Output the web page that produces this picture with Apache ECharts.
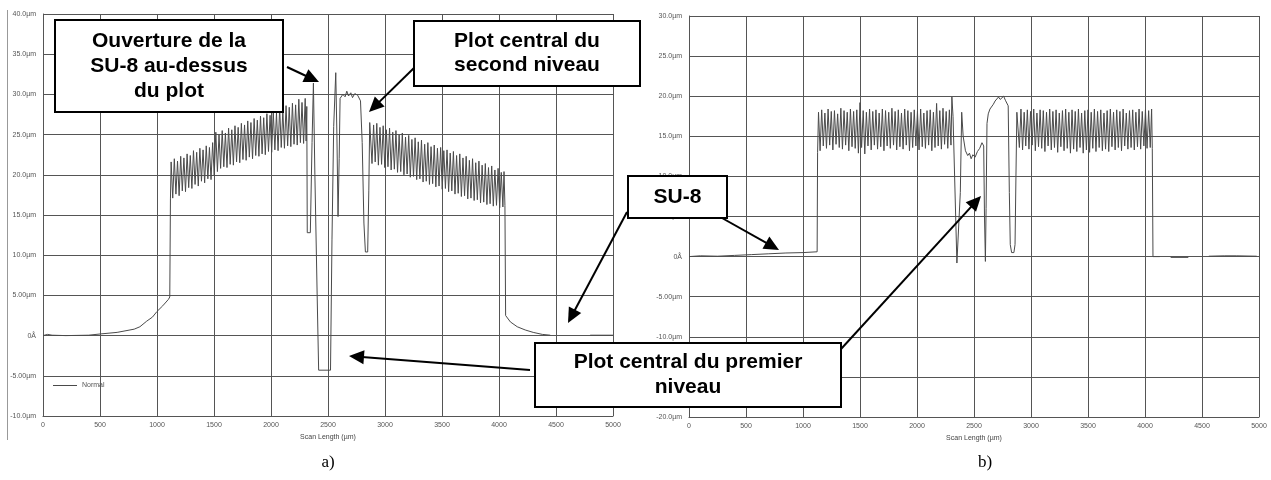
<!DOCTYPE html>
<html><head><meta charset="utf-8">
<script src="https://cdn.jsdelivr.net/npm/echarts@6/dist/echarts.min.js"></script>
<style>html,body{margin:0;padding:0;background:#fff}#c{width:1271px;height:480px}</style>
</head><body><div id="c"></div>
<script>
// ---------- data (µm vs µm) ----------
const xTicks = [0,500,1000,1500,2000,2500,3000,3500,4000,4500,5000];
const xLabels = ['0','500','1000','1500','2000','2500','3000','3500','4000','4500','5000'];
const yTicksA = [-10,-5,0,5,10,15,20,25,30,35,40];
const yLabelsA = ['-10.0µm','-5.00µm','0Å','5.00µm','10.0µm','15.0µm','20.0µm','25.0µm','30.0µm','35.0µm','40.0µm'];
const yTicksB = [-20,-15,-10,-5,0,5,10,15,20,25,30];
const yLabelsB = ['-20.0µm','-15.0µm','-10.0µm','-5.00µm','0Å','5.00µm','10.0µm','15.0µm','20.0µm','25.0µm','30.0µm'];

// chart a)
const baseA = [[0,0],[40,0.15],[80,0.05],[200,0],[400,0.05],[500,0.2],[650,0.4],[800,0.8],[850,1.1],[910,1.8],[960,2.3],[1000,3.0],[1050,3.7],[1100,4.5],[1112,4.8],[1118,17.0]];
const ridgeA1 = [[1124,21.6],[1138,17.1],[1152,22.0],[1166,17.6],[1180,21.7],[1194,17.4],[1208,22.3],[1222,18.0],[1236,22.1],[1250,17.9],[1264,22.6],[1278,18.4],[1292,22.4],[1306,18.3],[1320,23.0],[1334,18.8],[1348,22.8],[1362,18.6],[1376,23.3],[1390,19.2],[1404,23.1],[1418,19.0],[1432,23.6],[1446,19.5],[1460,23.4],[1474,19.4],[1488,24.0],[1502,19.9],[1516,25.3],[1530,20.4],[1544,25.0],[1558,20.8],[1572,25.5],[1586,21.0],[1600,25.2],[1614,20.9],[1628,25.8],[1642,21.3],[1656,25.6],[1670,21.2],[1684,26.1],[1698,21.6],[1712,25.9],[1726,21.5],[1740,26.4],[1754,21.9],[1768,26.2],[1782,21.8],[1796,26.7],[1810,22.2],[1824,26.5],[1838,22.0],[1852,27.0],[1866,22.4],[1880,26.8],[1894,22.3],[1908,27.3],[1922,22.6],[1936,27.1],[1950,22.5],[1964,27.6],[1978,22.9],[1992,27.4],[2006,22.8],[2020,27.9],[2034,23.1],[2048,27.7],[2062,23.0],[2076,28.3],[2090,23.4],[2104,28.0],[2118,23.3],[2132,28.6],[2146,23.6],[2160,28.4],[2174,23.5],[2188,28.9],[2202,23.8],[2216,28.7],[2230,23.7],[2244,29.4],[2258,24.0],[2272,29.0],[2286,23.9],[2300,29.5],[2308,24.2]];
const centreA = [[2314,28.5],[2318,12.8],[2345,12.8],[2360,24],[2372,31.4],[2385,20],[2405,5],[2418,-4.3],[2522,-4.3],[2535,12],[2550,26],[2568,32.7],[2578,25],[2588,14.8],[2598,22],[2606,29.5],[2630,30.0],[2650,29.7],[2665,30.4],[2680,29.8],[2700,30.2],[2715,29.6],[2735,30.1],[2760,29.9],[2785,29.2],[2800,24],[2815,14],[2828,10.4],[2848,10.4],[2858,18],[2866,26.5]];
const ridgeA2 = [[2872,26.6],[2886,21.4],[2900,26.2],[2914,21.6],[2928,26.4],[2942,21.2],[2956,25.9],[2970,21.3],[2984,26.1],[2998,20.9],[3012,25.6],[3026,21.0],[3040,25.8],[3054,20.6],[3068,25.3],[3082,20.7],[3096,25.5],[3110,20.3],[3124,25.0],[3138,20.4],[3152,25.2],[3166,20.0],[3180,24.7],[3194,20.1],[3208,24.9],[3222,19.7],[3236,24.4],[3250,19.8],[3264,24.6],[3278,19.4],[3292,24.1],[3306,19.5],[3320,24.3],[3334,19.1],[3348,23.8],[3362,19.2],[3376,24.0],[3390,18.8],[3404,23.5],[3418,18.9],[3432,23.7],[3446,18.5],[3460,23.3],[3474,18.6],[3488,23.4],[3502,18.2],[3516,23.0],[3530,18.3],[3544,23.1],[3558,17.9],[3572,22.7],[3586,18.0],[3600,22.9],[3614,17.6],[3628,22.4],[3642,17.7],[3656,22.6],[3670,17.3],[3684,22.1],[3698,17.4],[3712,22.3],[3726,17.0],[3740,21.8],[3754,17.1],[3768,22.0],[3782,16.8],[3796,21.5],[3810,16.9],[3824,21.7],[3838,16.5],[3852,21.2],[3866,16.6],[3880,21.4],[3894,16.3],[3908,20.9],[3922,16.4],[3936,21.1],[3950,16.1],[3964,20.6],[3978,16.2],[3992,20.8],[4006,15.9],[4020,20.3],[4034,16.0],[4044,20.4],[4052,16.2]];
const tailA = [[4058,2.5],[4100,1.7],[4160,1.1],[4230,0.7],[4300,0.4],[4380,0.15],[4450,0.05],[4470,'-'],[4800,0.05],[5000,0.05]];

// chart b)
const baseB = [[0,0],[100,0.1],[250,0.05],[400,0.15],[550,0.25],[700,0.35],[850,0.45],[1000,0.5],[1124,0.6],[1128,13.0]];
const ridgeB1 = [[1136,18.0],[1150,13.2],[1164,18.3],[1178,13.8],[1192,17.9],[1206,13.5],[1220,18.4],[1234,13.9],[1248,18.1],[1262,13.3],[1276,18.2],[1290,14.0],[1304,17.8],[1318,13.6],[1332,18.5],[1346,13.4],[1360,18.2],[1374,13.9],[1388,18.0],[1402,13.2],[1416,18.4],[1430,13.7],[1444,18.1],[1458,13.5],[1472,18.3],[1486,12.9],[1500,19.2],[1514,13.6],[1528,18.2],[1542,12.8],[1556,18.0],[1570,13.8],[1584,18.4],[1598,13.3],[1612,18.1],[1626,13.9],[1640,18.3],[1654,13.4],[1668,17.9],[1682,13.7],[1696,18.4],[1710,13.2],[1724,18.2],[1738,13.8],[1752,18.0],[1766,13.5],[1780,18.5],[1794,13.9],[1808,18.1],[1822,13.3],[1836,18.3],[1850,13.7],[1864,17.9],[1878,13.4],[1892,18.4],[1906,13.9],[1920,18.2],[1934,13.2],[1948,18.0],[1962,13.6],[1976,18.3],[1990,13.8],[2004,18.1],[2018,13.3],[2032,18.4],[2046,13.7],[2060,17.9],[2074,13.5],[2088,18.2],[2102,13.9],[2116,18.3],[2130,13.2],[2144,18.0],[2158,13.6],[2172,19.1],[2186,13.8],[2200,18.2],[2214,13.4],[2228,18.5],[2242,14.0],[2256,18.1],[2270,13.5],[2284,18.3],[2298,13.9]];
const centreB = [[2306,19.9],[2316,17.5],[2330,10],[2350,-0.8],[2365,-0.8],[2380,8],[2392,18.0],[2405,15],[2425,13.2],[2445,12.6],[2460,12.9],[2475,12.2],[2490,12.7],[2510,12.4],[2530,13.1],[2550,13.5],[2570,14.2],[2585,13.8],[2592,5],[2600,-0.6],[2606,6],[2614,16.6],[2625,17.8],[2640,18.4],[2655,18.2],[2670,19.0],[2685,19.4],[2700,19.2],[2715,19.9],[2730,19.6],[2745,19.8],[2760,20.0],[2775,19.5],[2790,19.7],[2800,18.8],[2810,8],[2818,1.5],[2830,0.5],[2850,0.5],[2860,1.5],[2868,10],[2876,18.0]];
const ridgeB2 = [[2884,18.2],[2898,13.6],[2912,18.4],[2926,13.3],[2940,18.0],[2954,13.8],[2968,18.3],[2982,13.4],[2996,18.1],[3010,13.9],[3024,18.4],[3038,13.2],[3052,17.9],[3066,13.7],[3080,18.3],[3094,13.5],[3108,18.2],[3122,13.1],[3136,18.0],[3150,13.8],[3164,18.4],[3178,13.3],[3192,18.1],[3206,13.6],[3220,18.3],[3234,13.0],[3248,17.9],[3262,13.7],[3276,18.2],[3290,13.2],[3304,18.4],[3318,13.5],[3332,18.0],[3346,12.9],[3360,18.3],[3374,13.4],[3388,18.1],[3402,13.1],[3416,18.4],[3430,13.6],[3444,17.9],[3458,12.9],[3472,18.2],[3486,13.3],[3500,18.3],[3514,13.0],[3528,18.0],[3542,13.5],[3556,18.4],[3570,13.1],[3584,18.1],[3598,13.6],[3612,18.3],[3626,13.2],[3640,17.9],[3654,13.4],[3668,18.2],[3682,13.1],[3696,18.4],[3710,13.7],[3724,18.0],[3738,13.3],[3752,18.3],[3766,13.6],[3780,18.1],[3794,13.2],[3808,18.4],[3822,13.8],[3836,17.9],[3850,13.4],[3864,18.2],[3878,13.6],[3892,18.3],[3906,13.3],[3920,18.0],[3934,13.7],[3948,18.4],[3962,13.4],[3976,18.1],[3990,13.8],[4004,18.3],[4018,13.5],[4032,18.2],[4046,13.6],[4058,18.4]];
const tailB = [[4064,13.5],[4070,0],[4130,0],[4150,'-'],[4225,-0.1],[4380,-0.1],[4400,'-'],[4560,0.05],[4700,0.1],[4800,0.1],[4980,0.05]];

const seriesNameA = 'Normal';
const xTitle = 'Scan Length (µm)';
// ---------- chart ----------
const traceA = [].concat(baseA, ridgeA1, centreA, ridgeA2, tailA);
const traceB = [].concat(baseB, ridgeB1, centreB, ridgeB2, tailB);

const tickFont = {fontSize: 7, color: '#555', fontFamily: 'Liberation Sans'};
const gridCol = '#555';
function xAx(gi){
  return {type:'value', gridIndex:gi, min:0, max:5000, interval:500,
    name: xTitle, nameLocation:'middle', nameGap:15,
    nameTextStyle:{fontSize:7, color:'#444', fontFamily:'Liberation Sans'},
    axisLine:{show:true, onZero:false, lineStyle:{color:gridCol}}, axisTick:{show:false},
    axisLabel:Object.assign({margin:6, showMaxLabel:true, showMinLabel:true,
      formatter:(v)=>{const i=xTicks.indexOf(v); return i>=0?xLabels[i]:'';}}, tickFont),
    splitLine:{show:true, lineStyle:{color:gridCol, width:1}}};
}
function yAx(gi, ticks, labels){
  return {type:'value', gridIndex:gi, min:ticks[0], max:ticks[ticks.length-1], interval:5,
    axisLine:{show:true, onZero:false, lineStyle:{color:gridCol}}, axisTick:{show:false},
    axisLabel:Object.assign({margin:7, formatter:(v)=>{const i=ticks.indexOf(v); return i>=0?labels[i]:'';}}, tickFont),
    splitLine:{show:true, lineStyle:{color:gridCol, width:1}}};
}

function arrow(x1,y1,x2,y2){
  const dx=x2-x1, dy=y2-y1, L=Math.hypot(dx,dy), ux=dx/L, uy=dy/L;
  const hl=15, hw=7;
  const bx=x2-ux*hl, by=y2-uy*hl;
  return [
    {type:'line', shape:{x1:x1,y1:y1,x2:bx+ux*2,y2:by+uy*2}, style:{stroke:'#000', lineWidth:2}, z:100},
    {type:'polygon', shape:{points:[[x2,y2],[bx-uy*hw,by+ux*hw],[bx+uy*hw,by-ux*hw]]}, style:{fill:'#000'}, z:100}
  ];
}
function box(x,y,w,h,lines,lh){
  const els=[{type:'rect', shape:{x:x,y:y,width:w,height:h}, style:{fill:'#fff', stroke:'#000', lineWidth:2}, z:101}];
  const cy=y+h/2 - (lines.length-1)*lh/2;
  lines.forEach((t,i)=>els.push({type:'text', x:x+w/2, y:cy+i*lh, z:102,
    style:{text:t, font:'bold 21px "Liberation Sans", Arial, sans-serif', fill:'#000', textAlign:'center', textVerticalAlign:'middle'}}));
  return els;
}

const graphics = [].concat(
  [{type:'line', shape:{x1:7.5,y1:10,x2:7.5,y2:440}, style:{stroke:'#999', lineWidth:1}}],
  arrow(287,67,319,82),
  arrow(415,67,369,112),
  arrow(627,212,568,323),
  arrow(722,218,779,250),
  arrow(530,370,349,356),
  arrow(820,372,981,196),
  box(55,20,228,92,['Ouverture de la','SU-8 au-dessus','du plot'],25),
  box(414,21,226,65,['Plot central du','second niveau'],24),
  box(628,176,99,42,['SU-8'],24),
  box(535,343,306,64,['Plot central du premier','niveau'],25),
  [{type:'text', x:328, y:463, style:{text:'a)', font:'17px "Liberation Serif", serif', fill:'#000', textAlign:'center', textVerticalAlign:'middle'}},
   {type:'text', x:985, y:463, style:{text:'b)', font:'17px "Liberation Serif", serif', fill:'#000', textAlign:'center', textVerticalAlign:'middle'}}]
);

const chart = echarts.init(document.getElementById('c'), null, {renderer:'canvas'});
chart.setOption({
  animation:false,
  backgroundColor:'#fff',
  grid:[{left:43, top:14, width:570, height:402}, {left:689, top:16, width:570, height:401}],
  xAxis:[xAx(0), xAx(1)],
  yAxis:[yAx(0, yTicksA, yLabelsA), yAx(1, yTicksB, yLabelsB)],
  legend:{data:[seriesNameA], left:48, top:377, icon:'rect', itemWidth:24, itemHeight:1, itemGap:4,
    textStyle:{fontSize:7, color:'#555', fontFamily:'Liberation Sans', padding:[0,0,0,0]}},
  series:[
    {name:seriesNameA, type:'line', xAxisIndex:0, yAxisIndex:0, data:traceA, showSymbol:false, symbol:'none',
      lineStyle:{color:'#4a4a4a', width:1}, itemStyle:{color:'#4a4a4a'}, connectNulls:false, z:5},
    {name:'b', type:'line', xAxisIndex:1, yAxisIndex:1, data:traceB, showSymbol:false, symbol:'none',
      lineStyle:{color:'#4a4a4a', width:1}, itemStyle:{color:'#4a4a4a'}, connectNulls:false, z:5}
  ],
  graphic: graphics
});
</script></body></html>
